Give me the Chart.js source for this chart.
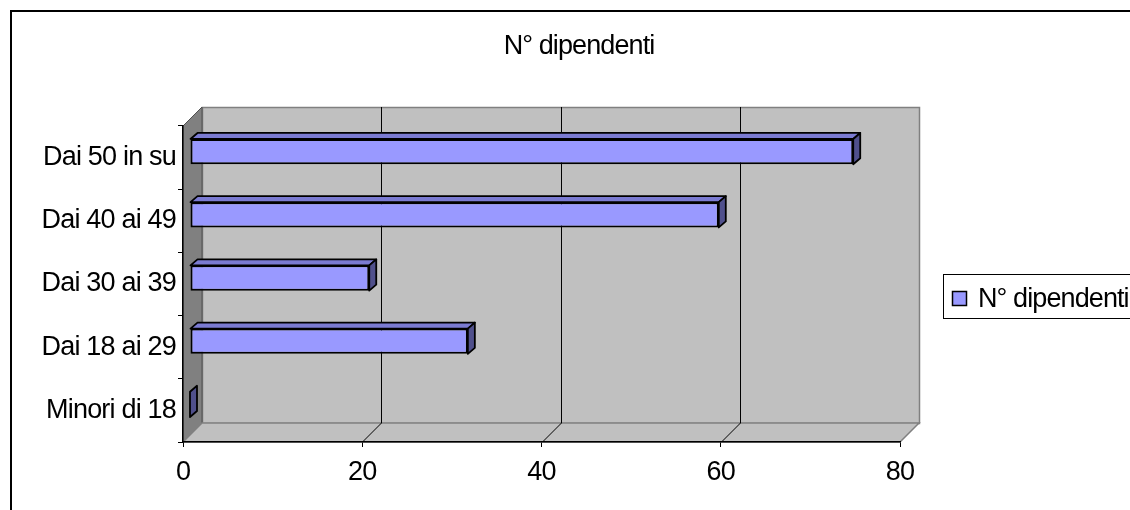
<!DOCTYPE html>
<html><head><meta charset="utf-8">
<script src="https://cdn.jsdelivr.net/npm/chart.js@4.4.1/dist/chart.umd.min.js"></script>
<style>html,body{margin:0;padding:0;background:#fff}#wrap{width:1130px;height:510px;position:relative}</style>
</head><body><div id="wrap"><canvas id="c"></canvas></div>
<script>
// ---- data ----
const categories = ['Dai 50 in su', 'Dai 40 ai 49', 'Dai 30 ai 39', 'Dai 18 ai 29', 'Minori di 18'];
const employees = [74, 59, 20, 31, 0];
const seriesName = 'N° dipendenti';
const chartTitle = 'N° dipendenti';
const xTickValues = [0, 20, 40, 60, 80];

const FONT = '"Liberation Sans", Arial, sans-serif';
const WALL_D = 19;     // oblique depth of walls
const BAR_OFF = 7;     // bar front plane offset into depth
const BAR_DX = 7, BAR_DY = 6;

function poly(ctx, pts) {
  ctx.beginPath();
  ctx.moveTo(pts[0][0], pts[0][1]);
  for (let i = 1; i < pts.length; i++) ctx.lineTo(pts[i][0], pts[i][1]);
  ctx.closePath();
}

const scene3d = {
  id: 'scene3d',
  beforeDraw(chart) {
    const ctx = chart.ctx;
    const a = chart.chartArea;
    const xs = chart.scales.x;
    const L = a.left, R = a.right, T = a.top, B = a.bottom, D = WALL_D;
    ctx.save();
    ctx.fillStyle = '#fff';
    ctx.fillRect(0, 0, chart.width, chart.height);
    // outer border
    ctx.strokeStyle = '#000'; ctx.lineWidth = 2;
    ctx.beginPath(); ctx.moveTo(11, chart.height + 2); ctx.lineTo(11, 11); ctx.lineTo(chart.width + 2, 11); ctx.stroke();
    // back wall
    ctx.fillStyle = '#c0c0c0';
    ctx.fillRect(L + D, T - D, R - L, B - T);
    ctx.strokeStyle = '#808080'; ctx.lineWidth = 1.5;
    ctx.strokeRect(L + D + 0.5, T - D + 0.5, R - L, B - T);
    // side wall
    poly(ctx, [[L, T], [L + D, T - D], [L + D, B - D], [L, B]]);
    ctx.fillStyle = '#808080'; ctx.fill();
    ctx.strokeStyle = '#505050'; ctx.lineWidth = 1; ctx.stroke();
    // floor
    poly(ctx, [[L, B], [R, B], [R + D, B - D], [L + D, B - D]]);
    ctx.fillStyle = '#c0c0c0'; ctx.fill();
    ctx.strokeStyle = '#808080'; ctx.lineWidth = 1.5; ctx.stroke();
    // gridlines on floor and back wall
    ctx.strokeStyle = '#000'; ctx.lineWidth = 1;
    xs.ticks.forEach(t => {
      if (t.value <= xs.min || t.value >= xs.max) return;
      const px = Math.round(xs.getPixelForValue(t.value)) + 0.5;
      ctx.beginPath();
      ctx.moveTo(px, B); ctx.lineTo(px + D, B - D); ctx.lineTo(px + D, T - D);
      ctx.stroke();
    });
    // title
    ctx.fillStyle = '#000';
    ctx.font = '27px ' + FONT;
    ctx.letterSpacing = '-0.9px';
    ctx.textAlign = 'center'; ctx.textBaseline = 'alphabetic';
    ctx.fillText(chartTitle, 579, 54);
    // legend
    const ds = chart.data.datasets[0];
    ctx.strokeStyle = '#000'; ctx.lineWidth = 1;
    ctx.strokeRect(943.5, 274.5, 400, 44);
    ctx.fillStyle = ds.backgroundColor;
    ctx.fillRect(952, 291, 15, 15);
    ctx.lineWidth = 1.5;
    ctx.strokeRect(952.5, 291.5, 14, 14);
    ctx.fillStyle = '#000';
    ctx.textAlign = 'left';
    ctx.fillText(ds.label, 978, 307);
    ctx.restore();
    ctx.letterSpacing = '-0.8px';
  },
  beforeDatasetsDraw(chart) {
    chart.ctx.save();
    chart.ctx.translate(BAR_OFF, -BAR_OFF + 1);
  },
  afterDatasetsDraw(chart) {
    const ctx = chart.ctx;
    const meta = chart.getDatasetMeta(0);
    meta.data.forEach(el => {
      const p = el.getProps(['x', 'y', 'base', 'height'], true);
      const top = p.y - p.height / 2, bot = p.y + p.height / 2;
      const x0 = Math.min(p.base, p.x), x1 = Math.max(p.base, p.x);
      ctx.lineWidth = 1.8; ctx.strokeStyle = '#000'; ctx.lineJoin = 'round';
      if (x1 - x0 > 0.5) {
        poly(ctx, [[x0, top], [x1, top], [x1 + BAR_DX, top - BAR_DY], [x0 + BAR_DX, top - BAR_DY]]);
        ctx.fillStyle = '#7b7bd2'; ctx.fill(); ctx.stroke();
      }
      poly(ctx, [[x1, top], [x1 + BAR_DX, top - BAR_DY], [x1 + BAR_DX, bot - BAR_DY], [x1, bot]]);
      ctx.fillStyle = '#50508c'; ctx.fill(); ctx.stroke();
    });
    ctx.restore();
  }
};

new Chart(document.getElementById('c'), {
  type: 'bar',
  data: {
    labels: categories,
    datasets: [{
      label: seriesName,
      data: employees,
      backgroundColor: '#9999ff',
      borderColor: '#000',
      borderWidth: 2,
      borderSkipped: false,
      categoryPercentage: 1,
      barPercentage: 0.4,
      clip: false
    }]
  },
  options: {
    indexAxis: 'y',
    responsive: true,
    maintainAspectRatio: false,
    animation: false,
    layout: { padding: { left: 0, top: 126, right: 230, bottom: 0 } },
    plugins: { legend: { display: false }, title: { display: false }, tooltip: { enabled: false } },
    scales: {
      x: {
        type: 'linear', min: 0, max: 80,
        afterBuildTicks: s => { s.ticks = xTickValues.map(v => ({ value: v })); },
        afterFit: s => { s.height = 68; },
        grid: { drawOnChartArea: false, drawTicks: true, tickLength: 5, color: '#000', lineWidth: 1 },
        border: { display: true, color: '#000', width: 1.5 },
        ticks: { color: '#000', font: { family: FONT, size: 27 }, padding: 9, maxRotation: 0 }
      },
      y: {
        type: 'category',
        afterFit: s => { s.width = 183; },
        grid: { drawOnChartArea: false, drawTicks: true, tickLength: 5, color: '#000', lineWidth: 1, offset: true },
        border: { display: true, color: '#000', width: 1.5 },
        ticks: { color: '#000', font: { family: FONT, size: 27 }, padding: 2 }
      }
    }
  },
  plugins: [scene3d]
});
</script>
</body></html>
